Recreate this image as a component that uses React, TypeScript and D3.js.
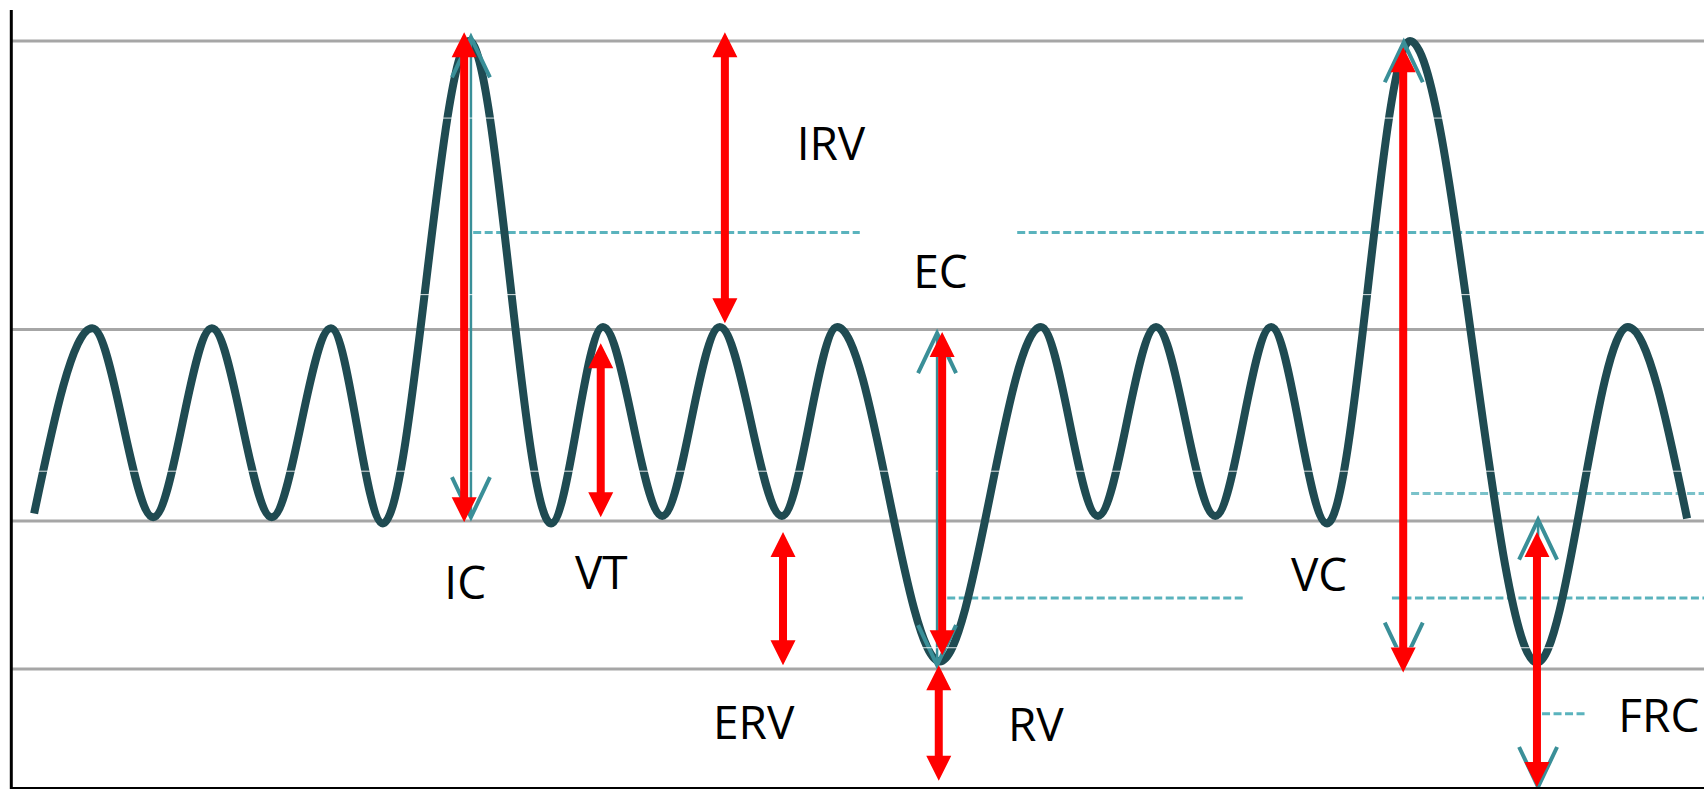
import React from 'react';
import * as d3 from 'd3';

// spirogram trace: time (s) and lung volume (L) at each turning point
const breathTime = [0.41, 1.44, 2.52, 3.56, 4.62, 5.67, 6.59, 8.12, 9.57, 10.49, 11.54, 12.56, 13.66, 14.64, 16.46, 18.25, 19.26, 20.29, 21.34, 22.33, 23.32, 24.79, 27.04, 28.65, 29.7];
const breathVolume = [2.2, 3.69, 2.17, 3.69, 2.17, 3.69, 2.12, 6.0, 2.12, 3.7, 2.18, 3.7, 2.18, 3.7, 1.01, 3.7, 2.18, 3.7, 2.18, 3.7, 2.12, 6.0, 1.0, 3.7, 2.16];

// grey reference levels (TLC, end inspiration, end expiration, RV)
const levelVolumes = [6.0, 3.68, 2.14, 0.95];
// faint axis ticks
const tickVolumes = [5.38, 3.96, 2.54, 1.12];

// dashed helper lines
const dashVolume = [4.46, 4.46, 1.52, 1.52, 2.36, 0.59];
const dashStart = [8.19, 17.83, 16.59, 24.47, 24.81, 27.13];
const dashEnd = [15.04, 30, 21.87, 30, 30, 27.89];

// red double arrows
const arrowNames = ['IC', 'IRV', 'VT', 'ERV', 'EC', 'RV', 'VC', 'FRC'];
const arrowTime = [8.03, 12.65, 10.45, 13.68, 16.5, 16.44, 24.67, 27.04];
const arrowTop = [6.07, 6.07, 3.57, 2.05, 3.66, 0.98, 5.95, 2.05];
const arrowBottom = [2.13, 3.73, 2.17, 0.98, 1.06, 0.05, 0.92, 0.0];

// teal guide arrows behind some red ones
const guideTime = [8.15, 16.41, 24.68, 27.06];
const guideTop = [6.03, 3.65, 5.99, 2.15];
const guideBottom = [2.17, 0.98, 1.0, 0.0];

// labels
const labelText = ['IRV', 'EC', 'IC', 'VT', 'ERV', 'RV', 'VC', 'FRC'];
const labelTime = [14.53, 16.47, 8.05, 10.46, 13.16, 18.16, 23.18, 29.2];
const labelVolume = [5.04, 4.01, 1.51, 1.59, 0.39, 0.37, 1.58, 0.44];

const W = 1704;
const H = 789;

const App = () => {
    const x = d3.scaleLinear().domain([0, 30]).range([11, W]);
    const y = d3.scaleLinear().domain([0, 6]).range([787, 41]);

    const trace = d3.line<number>()
        .x((d, i) => x(breathTime[i]))
        .y((d) => y(d))
        .curve(d3.curveMonotoneX);

    const arrowPath = (cx: number, yt: number, yb: number) => {
        const hw = 12.5, hl = 25, sw = 4;
        return `M${cx},${yt}L${cx + hw},${yt + hl}L${cx + sw},${yt + hl}L${cx + sw},${yb - hl}L${cx + hw},${yb - hl}L${cx},${yb}L${cx - hw},${yb - hl}L${cx - sw},${yb - hl}L${cx - sw},${yt + hl}L${cx - hw},${yt + hl}Z`;
    };

    const chevron = (cx: number, ya: number, dir: number) =>
        `M${cx - 19},${ya + dir * 40}L${cx},${ya}L${cx + 19},${ya + dir * 40}`;

    const teal = '#3a8f98';

    return (
        <svg width={W} height={H} style={{ position: 'absolute', left: 0, top: 0, background: '#fff' }}>
            {levelVolumes.map((v, i) => (
                <line key={'lv' + i} x1={12} x2={W} y1={y(v)} y2={y(v)} stroke="#a6a6a6" strokeWidth={3} />
            ))}

            {dashVolume.map((v, i) => (
                <line key={'dv' + i} x1={x(dashStart[i])} x2={x(dashEnd[i])} y1={y(v)} y2={y(v)}
                    stroke="#5ab3bd" strokeWidth={3} strokeDasharray="8 3.5" opacity={i === 4 ? 0.8 : 1} />
            ))}

            <path d={trace(breathVolume) || ''} fill="none" stroke="#1f4b52" strokeWidth={8} />

            {guideTime.map((t, i) => (
                <g key={'g' + i} stroke={teal} fill="none">
                    <line x1={x(t)} x2={x(t)} y1={y(guideTop[i])} y2={y(guideBottom[i])} strokeWidth={2.5} />
                    <path d={chevron(x(t), y(guideTop[i]), 1)} strokeWidth={4} />
                    <path d={chevron(x(t), y(guideBottom[i]), -1)} strokeWidth={4} />
                </g>
            ))}

            {tickVolumes.map((v, i) => (
                <line key={'tk' + i} x1={6} x2={W} y1={y(v)} y2={y(v)} stroke="#fff" strokeWidth={1} opacity={0.85} />
            ))}

            {arrowNames.map((n, i) => (
                <path key={n} d={arrowPath(x(arrowTime[i]), y(arrowTop[i]), y(arrowBottom[i]))} fill="#ff0000" />
            ))}

            <line x1={11.3} x2={11.3} y1={10} y2={H} stroke="#000" strokeWidth={3} />
            <line x1={10} x2={W} y1={788} y2={788} stroke="#000" strokeWidth={2} />

            {labelText.map((s, i) => (
                <text key={'t' + i} x={x(labelTime[i])} y={y(labelVolume[i])} textAnchor="middle"
                    fontFamily="'Open Sans', sans-serif" fontSize={46} fill="#000">{s}</text>
            ))}
        </svg>
    );
};

export default App;
